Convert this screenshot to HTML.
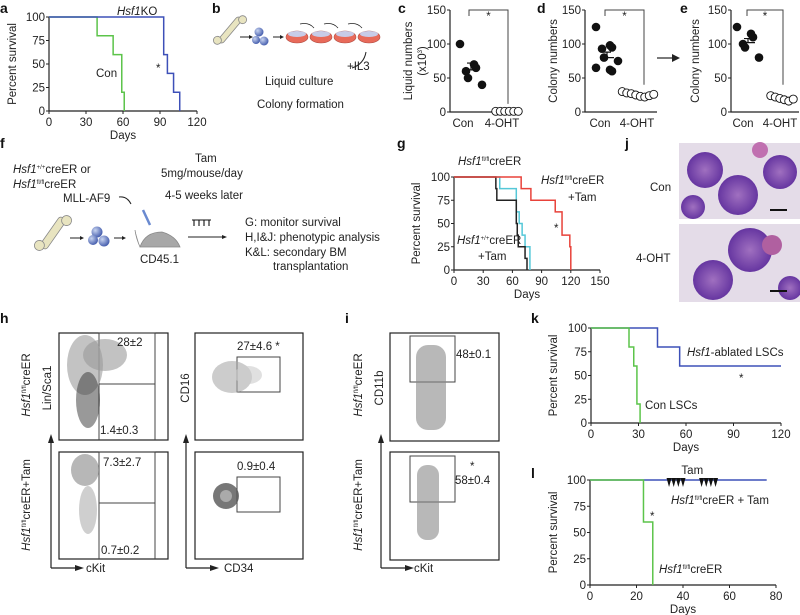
<!DOCTYPE html>
<html><head><meta charset="utf-8">
<style>
html,body{margin:0;padding:0;background:#fff}
svg{display:block;font-family:"Liberation Sans",sans-serif}
.t{font-size:11.5px;fill:#222}
.lb{font-size:14px;font-weight:bold;fill:#111}
.ax{stroke:#222;stroke-width:1.2;fill:none}
</style></head><body>
<svg id="fig" width="800" height="615" viewBox="0 0 800 615">
<defs>
<radialGradient id="cell" cx="35%" cy="35%" r="65%"><stop offset="0" stop-color="#c8d4f0"/><stop offset="1" stop-color="#4a62b0"/></radialGradient>
<radialGradient id="pur" cx="50%" cy="50%" r="60%"><stop offset="0" stop-color="#a070c0"/><stop offset="1" stop-color="#5a2a9a"/></radialGradient>
</defs>
<g id="plots"></g>
<text class="lb" x="0" y="13">a</text>
<text class="lb" x="212" y="13">b</text>
<text class="lb" x="398" y="13">c</text>
<text class="lb" x="537" y="13">d</text>
<text class="lb" x="680" y="13">e</text>
<text class="lb" x="0" y="148">f</text>
<text class="lb" x="397" y="148">g</text>
<text class="lb" x="625" y="148">j</text>
<text class="lb" x="0" y="323">h</text>
<text class="lb" x="345" y="323">i</text>
<text class="lb" x="531" y="323">k</text>
<text class="lb" x="531" y="478">l</text>

<g>
<g transform="translate(230,30) rotate(-50)"><rect x="-16" y="-3" width="32" height="6" rx="3" fill="#e8e4c0" stroke="#888" stroke-width="0.8"/><circle cx="-16" cy="-3" r="4" fill="#e8e4c0" stroke="#888" stroke-width="0.8"/><circle cx="16" cy="3" r="4" fill="#e8e4c0" stroke="#888" stroke-width="0.8"/></g>
<line x1="240" y1="37" x2="249" y2="37" stroke="#222"/><polygon points="249,35 253,37 249,39" fill="#222"/>
<circle cx="259" cy="32" r="4.5" fill="url(#cell)"/><circle cx="264" cy="41" r="4.5" fill="url(#cell)"/><circle cx="256" cy="40" r="4" fill="url(#cell)"/>
<line x1="273" y1="37" x2="280" y2="37" stroke="#222"/><polygon points="280,35 284,37 280,39" fill="#222"/>
<g id="dishes"></g>
<text class="t" x="347" y="70">+IL3</text>
<path d="M366 52 Q364 64 352 68" fill="none" stroke="#222"/>
<text class="t" x="265" y="85">Liquid culture</text>
<text class="t" x="257" y="108">Colony formation</text>
</g>

<line x1="657" y1="58" x2="672" y2="58" stroke="#222" stroke-width="1.2"/><polygon points="672,54 680,58 672,62" fill="#222"/>

<g>
<text class="t" x="13" y="173"><tspan font-style="italic">Hsf1</tspan><tspan font-size="6" dy="-4">+/+</tspan><tspan dy="4">creER or</tspan></text>
<text class="t" x="13" y="188"><tspan font-style="italic">Hsf1</tspan><tspan font-size="6" dy="-4">fl/fl</tspan><tspan dy="4">creER</tspan></text>
<text class="t" x="63" y="202">MLL-AF9</text>
<path d="M119 197 Q127 196 131 204" fill="none" stroke="#222"/>
<text class="t" x="195" y="162">Tam</text>
<text class="t" x="161" y="177">5mg/mouse/day</text>
<text class="t" x="165" y="199">4-5 weeks later</text>
<g transform="translate(53,233) rotate(-55)"><rect x="-18" y="-4" width="36" height="8" rx="3" fill="#e8e4c0" stroke="#888" stroke-width="0.8"/><circle cx="-18" cy="-4" r="5" fill="#e8e4c0" stroke="#888" stroke-width="0.8"/><circle cx="18" cy="4" r="5" fill="#e8e4c0" stroke="#888" stroke-width="0.8"/></g>
<line x1="70" y1="238" x2="80" y2="238" stroke="#222"/><polygon points="80,236 84,238 80,240" fill="#222"/>
<circle cx="97" cy="232" r="5.5" fill="url(#cell)"/><circle cx="104" cy="241" r="5.5" fill="url(#cell)"/><circle cx="93" cy="240" r="5" fill="url(#cell)"/>
<line x1="114" y1="238" x2="122" y2="238" stroke="#222"/><polygon points="122,236 126,238 122,240" fill="#222"/>
<path d="M140 247 Q136 238 135 230 M140 247 Q145 232 162 232 Q176 236 180 247 Z" fill="#a8a8a8" stroke="#888" stroke-width="0.8"/>
<line x1="143" y1="210" x2="150" y2="225" stroke="#6a8ad0" stroke-width="2.5"/>
<text class="t" x="140" y="263">CD45.1</text>
<g stroke="#111" stroke-width="1.1"><line x1="192" y1="220" x2="211" y2="220"/><line x1="194" y1="220" x2="194" y2="226"/><line x1="199" y1="220" x2="199" y2="226"/><line x1="204" y1="220" x2="204" y2="226"/><line x1="209" y1="220" x2="209" y2="226"/></g>
<line x1="188" y1="237" x2="222" y2="237" stroke="#222"/><polygon points="222,235 227,237 222,239" fill="#222"/>
<text class="t" x="245" y="226">G: monitor survival</text>
<text class="t" x="245" y="241">H,I&amp;J: phenotypic analysis</text>
<text class="t" x="245" y="256">K&amp;L: secondary BM</text>
<text class="t" x="273" y="270">transplantation</text>
</g>

<g>
<text class="t" x="650" y="191" font-size="12">Con</text>
<text class="t" x="636" y="262" font-size="12">4-OHT</text>
<rect x="679" y="143" width="121" height="76" fill="#e4dce8"/>
<circle cx="705" cy="170" r="18" fill="url(#pur)"/><circle cx="738" cy="195" r="20" fill="url(#pur)"/><circle cx="780" cy="172" r="17" fill="url(#pur)"/><circle cx="693" cy="207" r="12" fill="url(#pur)"/><circle cx="760" cy="150" r="8" fill="#c070b0"/>
<line x1="770" y1="210" x2="787" y2="210" stroke="#111" stroke-width="2"/>
<rect x="679" y="224" width="121" height="78" fill="#e4dce8"/>
<circle cx="750" cy="250" r="22" fill="url(#pur)"/><circle cx="713" cy="280" r="20" fill="url(#pur)"/><circle cx="790" cy="288" r="12" fill="url(#pur)"/><circle cx="772" cy="245" r="10" fill="#b060a0"/>
<line x1="770" y1="291" x2="787" y2="291" stroke="#111" stroke-width="2"/>
</g>

<g id="flow">
<text class="t" transform="translate(30,385) rotate(-90)" text-anchor="middle"><tspan font-style="italic">Hsf1</tspan><tspan font-size="6" dy="-4">fl/fl</tspan><tspan dy="4">creER</tspan></text>
<text class="t" transform="translate(30,505) rotate(-90)" text-anchor="middle"><tspan font-style="italic">Hsf1</tspan><tspan font-size="6" dy="-4">fl/fl</tspan><tspan dy="4">creER+Tam</tspan></text>
<text class="t" transform="translate(51,388) rotate(-90)" text-anchor="middle">Lin/Sca1</text>
<text class="t" transform="translate(189,388) rotate(-90)" text-anchor="middle">CD16</text>
<text class="t" transform="translate(362,385) rotate(-90)" text-anchor="middle"><tspan font-style="italic">Hsf1</tspan><tspan font-size="6" dy="-4">fl/fl</tspan><tspan dy="4">creER</tspan></text>
<text class="t" transform="translate(362,505) rotate(-90)" text-anchor="middle"><tspan font-style="italic">Hsf1</tspan><tspan font-size="6" dy="-4">fl/fl</tspan><tspan dy="4">creER+Tam</tspan></text>
<text class="t" transform="translate(383,388) rotate(-90)" text-anchor="middle">CD11b</text>
<g class="ax"><path d="M51 568 V443 M51 568 H75"/><path d="M186 568 V443 M186 568 H210"/><path d="M381 568 V443 M381 568 H405"/></g>
<g fill="#222"><polygon points="48,443 51,434 54,443"/><polygon points="75,565 84,568 75,571"/><polygon points="183,443 186,434 189,443"/><polygon points="210,565 219,568 210,571"/><polygon points="378,443 381,434 384,443"/><polygon points="405,565 414,568 405,571"/></g>
<text class="t" x="86" y="572">cKit</text><text class="t" x="224" y="572">CD34</text><text class="t" x="414" y="572">cKit</text>
<rect x="59" y="333" width="109" height="107" fill="none" stroke="#222" stroke-width="1.2"/>
<rect x="59" y="452" width="109" height="107" fill="none" stroke="#222" stroke-width="1.2"/>
<g fill="none" stroke="#444"><path d="M99 440 V333 H155 V384 H99 M155 384 V440"/><path d="M99 559 V452 H155 V503 H99 M155 503 V559"/></g>
<ellipse cx="85" cy="365" rx="18" ry="30" fill="#aaa" opacity="0.7"/><ellipse cx="105" cy="355" rx="22" ry="16" fill="#999" opacity="0.6"/><ellipse cx="88" cy="400" rx="12" ry="28" fill="#333" opacity="0.5"/>
<ellipse cx="85" cy="470" rx="14" ry="16" fill="#999" opacity="0.7"/><ellipse cx="88" cy="510" rx="9" ry="24" fill="#bbb" opacity="0.7"/>
<text class="t" x="117" y="346">28±2</text><text class="t" x="100" y="434">1.4±0.3</text>
<text class="t" x="103" y="466">7.3±2.7</text><text class="t" x="101" y="554">0.7±0.2</text>
<rect x="195" y="333" width="108" height="107" fill="none" stroke="#222" stroke-width="1.2"/>
<rect x="195" y="452" width="108" height="107" fill="none" stroke="#222" stroke-width="1.2"/>
<rect x="237" y="357" width="43" height="35" fill="none" stroke="#444"/><rect x="237" y="477" width="43" height="35" fill="none" stroke="#444"/>
<ellipse cx="232" cy="377" rx="20" ry="16" fill="#aaa" opacity="0.6"/><ellipse cx="248" cy="375" rx="14" ry="9" fill="#ccc" opacity="0.6"/>
<circle cx="226" cy="496" r="13" fill="#555" opacity="0.8"/><circle cx="226" cy="496" r="6" fill="#aaa"/>
<text class="t" x="237" y="350">27±4.6 *</text><text class="t" x="237" y="470">0.9±0.4</text>
<rect x="390" y="333" width="109" height="108" fill="none" stroke="#222" stroke-width="1.2"/>
<rect x="390" y="452" width="109" height="108" fill="none" stroke="#222" stroke-width="1.2"/>
<rect x="410" y="336" width="45" height="46" fill="none" stroke="#444"/><rect x="410" y="456" width="45" height="46" fill="none" stroke="#444"/>
<rect x="416" y="345" width="30" height="85" rx="12" fill="#888" opacity="0.6"/>
<rect x="417" y="465" width="22" height="75" rx="10" fill="#888" opacity="0.6"/>
<text class="t" x="456" y="358">48±0.1</text><text class="t" x="470" y="470">*</text><text class="t" x="455" y="484">58±0.4</text>
</g>
</svg>
<script>
const aCon=[[0,100],[39,80],[52,60],[59,20],[61,0]];
const aKO=[[0,100],[93,60],[96,40],[101,20],[106,0]];
const cCon=[100,70,65,60,50,40];
const cOHT=[1,1,1,1,1,1];
const cMean=62, cSem=10;
const dCon=[125,98,95,93,80,75,65,62,60];
const dOHT=[30,28,27,25,23,22,24,26];
const dMean=80, dSem=8;
const eCon=[125,115,110,100,95,80];
const eOHT=[24,22,20,18,16,19];
const eMean=102, eSem=6;
const gWT=[[0,100],[43,87.5],[44,75],[64,50],[65,37.5],[66,25],[73,12.5],[75,0]];
const gFl=[[0,100],[47,87.5],[64,62.5],[67,50],[70,37.5],[73,25],[78,0]];
const gTam=[[0,100],[69,87.5],[79,75],[104,62.5],[111,37.5],[119,25],[120,0]];
const kCon=[[0,100],[24,80],[27,60],[29,20],[31,0]];
const kKO=[[0,100],[42,80],[56,60],[120,60]];
const lCon=[[0,100],[23,60],[27,0]];
const lTam=[[0,100],[76,100]];
const lTamDays=[34,36,38,40,48,50,52,54];
const dishN=[0,1,2,3];

const NS='http://www.w3.org/2000/svg';
const root=document.getElementById('plots');
function mk(tag,attrs,parent){const e=document.createElementNS(NS,tag);for(const k in attrs)e.setAttribute(k,attrs[k]);(parent||root).appendChild(e);return e;}
function txt(x,y,s,attrs,parent){const e=mk('text',Object.assign({x:x,y:y,class:'t'},attrs||{}),parent);e.textContent=s;return e;}

function axes(o){
  const g=mk('g',{});
  
  
  const sx=v=>o.x0+(v-o.xmin)/(o.xmax-o.xmin)*(o.x1-o.x0);
  const sy=v=>o.y0-(v-o.ymin)/(o.ymax-o.ymin)*(o.y0-o.y1);
  mk('path',{d:`M${o.x0} ${o.y1} V${o.y0} H${o.xend||o.x1}`,class:'ax'},g);
  (o.yt||[]).forEach(v=>{mk('line',{x1:o.x0-3,x2:o.x0,y1:sy(v),y2:sy(v),stroke:'#222'},g);txt(o.x0-4,sy(v)+4,String(v),{'text-anchor':'end'},g);});
  (o.xt||[]).forEach(v=>{mk('line',{x1:sx(v),x2:sx(v),y1:o.y0,y2:o.y0+3,stroke:'#222'},g);txt(sx(v),o.y0+15,String(v),{'text-anchor':'middle'},g);});
  if(o.xl)txt((o.x0+o.x1)/2,o.y0+28,o.xl,{'text-anchor':'middle',"font-size":"12.5"},g);
  if(o.yl){txt(0,0,o.yl,{'text-anchor':'middle',"font-size":"12.5",transform:`translate(${o.ylx},${(o.y0+o.y1)/2}) rotate(-90)`},g);}
  return {g,sx,sy};
}
function step(ax,data,color,name){
  let d='';data.forEach((p,i)=>{const x=ax.sx(p[0]),y=ax.sy(p[1]);if(i==0)d+=`M${x} ${y}`;else d+=` H${x} V${y}`;});
  const p=mk('path',{d:d,fill:'none',stroke:color,'stroke-width':1.5},ax.g);
  
  
}
const A=axes({name:'panel-a-survival',x0:49,x1:197,y0:111,y1:17,xmin:0,xmax:120,ymin:0,ymax:100,yt:[0,25,50,75,100],xt:[0,30,60,90,120],xl:'Days',yl:'Percent survival',ylx:16});
step(A,aCon,'#5cc44a','curve-con');step(A,aKO,'#3d50b8','curve-hsf1ko');
txt(96,77,'Con',{fill:'#5cc44a','font-size':'13'});
const ka=txt(117,15,'',{fill:'#3d50b8','font-size':'13'});ka.innerHTML='<tspan font-style="italic">Hsf1</tspan>KO';
txt(156,72,'*',{'font-size':'13'});
const dg=document.getElementById('dishes');
dishN.forEach(i=>{const cx=297+i*24;
  const e=mk('ellipse',{cx:cx,cy:37,rx:11,ry:6,fill:'#e86a5a',stroke:'#b04a40','stroke-width':0.6},dg);
  
  
  mk('ellipse',{cx:cx,cy:34,rx:9,ry:3,fill:'#c8cce8'},dg);
  if(i<3)mk('path',{d:`M${cx+3} 24 Q${cx+12} 22 ${cx+17} 28`,fill:'none',stroke:'#222','stroke-width':0.8},dg);
});
function scatter(o){
  const ax=axes({name:o.name,x0:o.x0,x1:o.x0+o.w,xend:o.x0+o.w+4,y0:112,y1:10,xmin:0,xmax:1,ymin:0,ymax:150,yt:[0,50,100,150],yl:o.yl,ylx:o.ylx});
  const xc=o.x0+o.cx,xo=o.x0+o.ox;
  txt(o.x0+o.l1,127,'Con',{'text-anchor':'middle','font-size':'12.5'},ax.g);txt(o.x0+o.l2,127,'4-OHT',{'text-anchor':'middle','font-size':'12.5'},ax.g);
  o.con.forEach((v,i)=>{const dx=((i%3)-1)*8+(i%2?3:-3);const c=mk('circle',{cx:xc+dx,cy:ax.sy(v),r:4.3,fill:'#111'},ax.g);});
  o.oht.forEach((v,i)=>{const dx=(i-(o.oht.length-1)/2)*4.5;const c=mk('circle',{cx:xo+dx,cy:ax.sy(v),r:4,fill:'#fff',stroke:'#111','stroke-width':0.9},ax.g);});
  mk('path',{d:`M${xc-7} ${ax.sy(o.mean)} H${xc+7} M${xc} ${ax.sy(o.mean)} V${ax.sy(o.mean+o.sem)} M${xc-4} ${ax.sy(o.mean+o.sem)} H${xc+4}`,stroke:'#111','stroke-width':1.2,fill:'none'},ax.g);
  mk('path',{d:`M${o.x0+o.b1} 16 V10 H${o.x0+o.b2} V${ax.sy(o.brk)}`,stroke:'#444',fill:'none'},ax.g);
  txt(o.x0+(o.b1+o.b2)/2,20,'*',{'text-anchor':'middle','font-size':'12'},ax.g);
}
scatter({name:'panel-c-liquid',x0:450,w:68,cx:21,ox:57,l1:13,l2:52,b1:19,b2:58,con:cCon,oht:cOHT,mean:cMean,sem:cSem,brk:12,yl:'',ylx:0});
scatter({name:'panel-d-colony',x0:585,w:68,cx:22,ox:53,l1:15,l2:52,b1:20,b2:59,con:dCon,oht:dOHT,mean:dMean,sem:dSem,brk:40,yl:'Colony numbers',ylx:557});
scatter({name:'panel-e-colony',x0:731,w:64,cx:17,ox:51,l1:12,l2:49,b1:16,b2:52,con:eCon,oht:eOHT,mean:eMean,sem:eSem,brk:40,yl:'Colony numbers',ylx:699});
txt(0,0,'Liquid numbers',{'text-anchor':'middle','font-size':'12.5',transform:'translate(412,61) rotate(-90)'});
const cl=txt(0,0,'',{'text-anchor':'middle','font-size':'12.5',transform:'translate(426,61) rotate(-90)'});cl.innerHTML='(x10<tspan font-size="6" dy="-4">3</tspan><tspan dy="4">)</tspan>';
const G=axes({name:'panel-g-survival',x0:454,x1:600,y0:270,y1:177,xmin:0,xmax:150,ymin:0,ymax:100,yt:[0,25,50,75,100],xt:[0,30,60,90,120,150],xl:'Days',yl:'Percent survival',ylx:420});
step(G,gFl,'#55c8d8','curve-flfl-creer');step(G,gWT,'#222','curve-wt-tam');step(G,gTam,'#e8423a','curve-flfl-tam');
const g1=txt(458,165,'',{fill:'#55c8d8','font-size':'12.5'});g1.innerHTML='<tspan font-style="italic">Hsf1</tspan><tspan font-size="6" dy="-4">fl/fl</tspan><tspan dy="4">creER</tspan>';
const g2=txt(541,184,'',{fill:'#e8423a','font-size':'12.5'});g2.innerHTML='<tspan font-style="italic">Hsf1</tspan><tspan font-size="6" dy="-4">fl/fl</tspan><tspan dy="4">creER</tspan>';
txt(568,201,'+Tam',{fill:'#e8423a','font-size':'12.5'});
const g3=txt(457,244,'',{'font-size':'12.5'});g3.innerHTML='<tspan font-style="italic">Hsf1</tspan><tspan font-size="6" dy="-4">+/+</tspan><tspan dy="4">creER</tspan>';
txt(478,260,'+Tam',{'font-size':'12.5'});txt(554,232,'*',{'font-size':'12'});
const K=axes({name:'panel-k-survival',x0:591,x1:781,y0:423,y1:328,xmin:0,xmax:120,ymin:0,ymax:100,yt:[0,25,50,75,100],xt:[0,30,60,90,120],xl:'Days',yl:'Percent survival',ylx:557});
step(K,kKO,'#3d50b8','curve-hsf1-ablated');step(K,kCon,'#5cc44a','curve-con-lscs');
const k1=txt(687,356,'',{fill:'#3d50b8','font-size':'12.5'});k1.innerHTML='<tspan font-style="italic">Hsf1</tspan>-ablated LSCs';
txt(645,409,'Con LSCs',{fill:'#5cc44a','font-size':'12.5'});txt(739,382,'*',{'font-size':'12'});
const L=axes({name:'panel-l-survival',x0:590,x1:776,y0:585,y1:480,xmin:0,xmax:80,ymin:0,ymax:100,yt:[0,25,50,75,100],xt:[0,20,40,60,80],xl:'Days',yl:'Percent survival',ylx:557});
step(L,lTam,'#3d50b8','curve-flfl-tam');step(L,lCon,'#5cc44a','curve-flfl-creer');
lTamDays.forEach(d=>{const x=L.sx(d);const p=mk('polygon',{points:`${x-2.5},478 ${x+2.5},478 ${x},487`,fill:'#111'},L.g);mk('line',{x1:x,x2:x,y1:480,y2:478,stroke:'#111'},L.g);});
txt(L.sx(44),474,'Tam',{'text-anchor':'middle','font-size':'12'});
const l1=txt(671,504,'',{fill:'#3d50b8','font-size':'12.5'});l1.innerHTML='<tspan font-style="italic">Hsf1</tspan><tspan font-size="6" dy="-4">fl/fl</tspan><tspan dy="4">creER + Tam</tspan>';
const l2=txt(659,573,'',{fill:'#5cc44a','font-size':'12.5'});l2.innerHTML='<tspan font-style="italic">Hsf1</tspan><tspan font-size="6" dy="-4">fl/fl</tspan><tspan dy="4">creER</tspan>';
txt(650,520,'*',{'font-size':'12'});
</script>
</body></html>
